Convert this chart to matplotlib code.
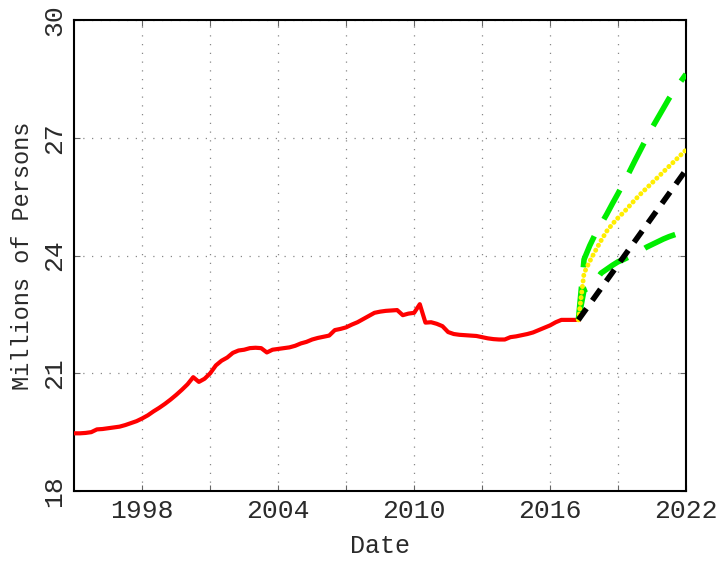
import numpy as np
import matplotlib
matplotlib.use('Agg')
import matplotlib.pyplot as plt


"""
Millions of persons: history plus forecast band
"""

# history, quarterly from 1995 Q1
hist_start = 1995.0
hist_vals = [19.47, 19.47, 19.48, 19.50,
             19.57, 19.58, 19.60, 19.62,
             19.64, 19.68, 19.73, 19.78,
             19.85, 19.93, 20.03, 20.12,
             20.22, 20.33, 20.45, 20.58,
             20.72, 20.90, 20.78, 20.86,
             21.00, 21.20, 21.32, 21.40,
             21.52, 21.58, 21.60, 21.64,
             21.65, 21.64, 21.53, 21.60,
             21.62, 21.64, 21.66, 21.70,
             21.76, 21.80, 21.86, 21.90,
             21.93, 21.96, 22.10, 22.13,
             22.17, 22.24, 22.30, 22.38,
             22.46, 22.54, 22.57, 22.59,
             22.60, 22.61, 22.48, 22.52,
             22.54, 22.76, 22.29, 22.30,
             22.26, 22.20, 22.05, 22.00,
             21.98, 21.97, 21.96, 21.95,
             21.92, 21.89, 21.87, 21.86,
             21.86, 21.92, 21.94, 21.97,
             22.00, 22.04, 22.10, 22.16,
             22.22, 22.30, 22.36, 22.36,
             22.36, 22.36]

# forecast, quarterly from 2017 Q2 to 2022
fc_start = 2017.25
fc_mean = [22.36, 23.55, 23.85, 24.12, 24.38, 24.62, 24.80, 24.96, 25.10, 25.26,
           25.42, 25.57, 25.71, 25.85, 25.99, 26.13, 26.27, 26.41, 26.55, 26.69]
fc_upper = [22.36, 23.90, 24.25, 24.55, 24.80, 25.05, 25.32, 25.58, 25.85, 26.13,
            26.42, 26.70, 26.98, 27.25, 27.50, 27.75, 28.00, 28.22, 28.42, 28.62]
fc_lower = [22.36, 23.12, 23.18, 23.35, 23.55, 23.65, 23.75, 23.84, 23.90, 23.97,
            24.03, 24.12, 24.21, 24.28, 24.35, 24.42, 24.48, 24.53, 24.58, 24.67]

# straight trend line
trend_x = [2017.25, 2022.0]
trend_y = [22.36, 26.18]

xticks = [1998, 2004, 2010, 2016, 2022]
yticks = [18, 21, 24, 27, 30]

font = 'Liberation Mono'
txt_col = '#2a2a2a'

if __name__ == '__main__':

    t_hist = hist_start + 0.25 * np.arange(len(hist_vals))
    t_fc = fc_start + 0.25 * np.arange(len(fc_mean))

    fig = plt.figure(figsize=(7.19, 5.62), dpi=100)
    ax = fig.add_axes([0.1033, 0.1263, 0.8508, 0.8381])

    ax.plot(t_hist, hist_vals, color='red', lw=3, solid_joinstyle='round', zorder=3)
    ax.plot(t_fc, fc_upper, color='#00ee00', lw=4, ls=(0, (6, 3.5)), zorder=3)
    ax.plot(t_fc, fc_lower, color='#00ee00', lw=4, ls=(0, (6, 3.5)), zorder=3)
    ax.plot(t_fc, fc_mean, color='#ffee00', lw=3.5, ls=(0, (0.05, 1.1)),
            dash_capstyle='round', zorder=4)
    ax.plot(trend_x, trend_y, color='black', lw=4, ls=(0, (2.5, 1.8)), zorder=5)

    ax.set_xlim(1995, 2022)
    ax.set_ylim(18, 30)
    ax.set_xticks(np.arange(1998, 2023, 3), minor=True)
    ax.set_xticks(xticks)
    ax.set_yticks(yticks)
    ax.set_xticklabels([str(v) for v in xticks], fontfamily=font, fontsize=19,
                       color=txt_col)
    ax.set_yticklabels([str(v) for v in yticks], fontfamily=font, fontsize=19,
                       rotation=90, va='center', color=txt_col)

    ax.grid(True, which='both', axis='x', color='#888888', ls=(0, (1, 6)), lw=0.9)
    ax.grid(True, which='major', axis='y', color='#888888', ls=(0, (1, 6)), lw=0.9)
    ax.tick_params(which='both', direction='in', top=True, right=True,
                   length=4, width=0.8, color='#666666', pad=6)

    for s in ax.spines.values():
        s.set_linewidth(1.5)

    ax.set_xlabel('Date', fontfamily=font, fontsize=18, labelpad=8, color=txt_col)
    ax.set_ylabel('Millions of Persons', fontfamily=font, fontsize=17, labelpad=6,
                  color=txt_col)

    plt.savefig('out.png', dpi=100)
    plt.close()
